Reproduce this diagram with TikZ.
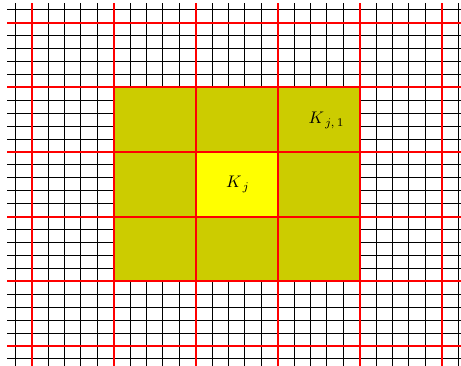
\documentclass[tikz,border=0pt]{standalone}
\definecolor{olivefill}{RGB}{204,204,0}
\definecolor{brightyellow}{RGB}{255,255,0}
\tikzset{
  fineline/.style={black,line width=1pt},
  coarseline/.style={red,line width=2.2pt},
  lbl/.style={inner sep=0pt,scale=1.68,transform shape}
}
\begin{document}
\begin{tikzpicture}[x=1pt,y=-1pt]
\useasboundingbox (0,0) rectangle (461,365);
\clip (0,0) rectangle (461,365);
% fine grid
\foreach \i in {0,...,27} {
  \draw[fineline] ({15.3+16.4*\i},3.3) -- ({15.3+16.4*\i},366);
}
\foreach \j in {0,...,27} {
  \draw[fineline] (7.1,{9.77+12.93*\j}) -- (467,{9.77+12.93*\j});
}
% fills
\fill[olivefill] (113.7,87.4) rectangle (359.7,281.8);
\fill[brightyellow] (195.7,152.3) rectangle (277.7,217.1);
% coarse grid
\foreach \i in {1,6,11,16,21,26} {
  \draw[coarseline] ({15.3+16.4*\i},3.3) -- ({15.3+16.4*\i},366);
}
\foreach \j in {1,6,11,16,21,26} {
  \draw[coarseline] (7.1,{9.77+12.93*\j}) -- (467,{9.77+12.93*\j});
}
\node[lbl] (kj) at (238,184.5) {$K_{\,j}$};
\node[lbl] (kj1) at (326.5,120.5) {$K_{\,j,\,1}$};
\end{tikzpicture}
\end{document}
